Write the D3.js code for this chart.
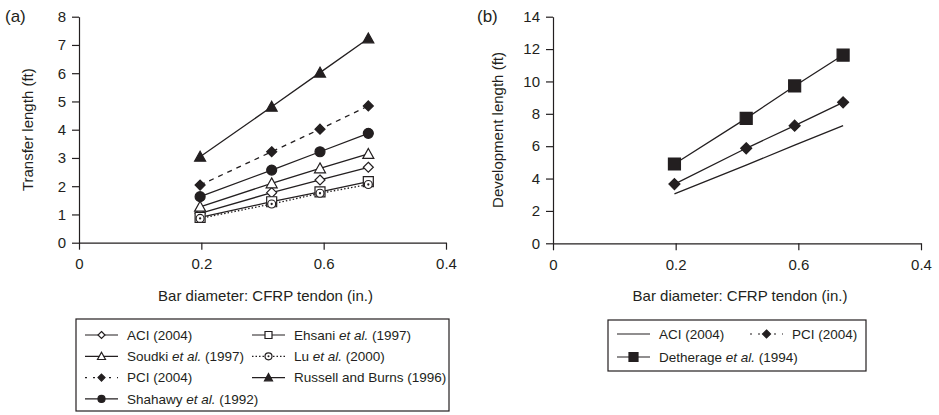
<!DOCTYPE html>
<html>
<head>
<meta charset="utf-8">
<script src="https://cdn.jsdelivr.net/npm/d3@7"></script>
<style>
  body { margin: 0; background: #fff; }
  svg { font-family: "Liberation Sans", Arial, sans-serif; }
</style>
</head>
<body>
<svg id="chart" width="939" height="415"></svg>
<script>
// --- data ---
const diameters = [0.198, 0.315, 0.394, 0.473];
const xTicks = [0, 0.2, 0.4, 0.6];
const xTickLabels = ["0", "0.2", "0.6", "0.4"];

// (a) transfer length (ft)
const aciA      = [1.04, 1.77, 2.22, 2.67];
const ehsani    = [0.90, 1.45, 1.80, 2.16];
const soudki    = [1.27, 2.10, 2.63, 3.14];
const lu        = [0.86, 1.37, 1.75, 2.06];
const pciA      = [2.04, 3.22, 4.02, 4.84];
const russell   = [3.04, 4.81, 6.02, 7.23];
const shahawy   = [1.63, 2.57, 3.22, 3.87];

// (b) development length (ft)
const aciB      = [3.05, 4.83, 6.06, 7.27];
const pciB      = [3.66, 5.87, 7.27, 8.71];
const detherage = [4.90, 7.72, 9.72, 11.63];

const seriesA = [
  {name: "ACI (2004)", values: aciA, marker: "diamond", fill: false, dash: null},
  {name: "Ehsani et al. (1997)", values: ehsani, marker: "square", fill: false, dash: null},
  {name: "Soudki et al. (1997)", values: soudki, marker: "triangle", fill: false, dash: null},
  {name: "Lu et al. (2000)", values: lu, marker: "dotcircle", fill: false, dash: "1.5,2"},
  {name: "PCI (2004)", values: pciA, marker: "diamond", fill: true, dash: "5,5"},
  {name: "Russell and Burns (1996)", values: russell, marker: "triangle", fill: true, dash: null},
  {name: "Shahawy et al. (1992)", values: shahawy, marker: "circle", fill: true, dash: null}
];
const seriesB = [
  {name: "ACI (2004)", values: aciB, marker: null, fill: false, dash: null},
  {name: "PCI (2004)", values: pciB, marker: "diamond", fill: true, dash: null, legendDash: "2,6"},
  {name: "Detherage et al. (1994)", values: detherage, marker: "square", fill: true, dash: null}
];

const svg = d3.select("#chart");
const ink = "#231f20";

function markerPath(kind, s) {
  // s = nominal size in px
  const h = s / 2;
  if (kind === "diamond") return `M0,${-h}L${h},0L0,${h}L${-h},0Z`;
  if (kind === "square") return `M${-h},${-h}H${h}V${h}H${-h}Z`;
  if (kind === "triangle") return `M0,${-h}L${h},${h * 0.8}L${-h},${h * 0.8}Z`;
  return null;
}

function drawMarker(g, kind, fill, s, x, y) {
  if (!kind) return;
  if (kind === "circle" || kind === "dotcircle") {
    g.append("circle").attr("cx", x).attr("cy", y).attr("r", s / 2)
      .attr("fill", fill ? ink : "#fff").attr("stroke", ink).attr("stroke-width", 1.2);
    if (kind === "dotcircle")
      g.append("circle").attr("cx", x).attr("cy", y).attr("r", s / 7).attr("fill", ink);
    return;
  }
  g.append("path").attr("d", markerPath(kind, s))
    .attr("transform", `translate(${x},${y})`)
    .attr("fill", fill ? ink : "#fff").attr("stroke", ink).attr("stroke-width", 1.2);
}

function addName(text, name, x, y) {
  const t = text.append("text").attr("x", x).attr("y", y).attr("dy", "0.35em")
    .attr("font-size", 13.5).attr("fill", ink);
  const parts = name.split("et al.");
  t.append("tspan").text(parts[0]);
  if (parts.length > 1) {
    t.append("tspan").attr("font-style", "italic").text("et al.");
    t.append("tspan").text(parts[1]);
  }
}

function drawPanel(cfg) {
  const g = svg.append("g");
  const x = d3.scaleLinear().domain([0, 0.6]).range([cfg.left, cfg.right]);
  const y = d3.scaleLinear().domain([0, cfg.yMax]).range([cfg.bottom, cfg.top]);

  const xAxis = g.append("g").attr("transform", `translate(0,${cfg.bottom})`)
    .call(d3.axisBottom(x).tickValues(xTicks).tickSize(7).tickSizeOuter(0).tickPadding(9)
      .tickFormat((d, i) => xTickLabels[i]));
  const yAxis = g.append("g").attr("transform", `translate(${cfg.left},0)`)
    .call(d3.axisLeft(y).ticks(cfg.yMax / cfg.yStep).tickSize(7).tickSizeOuter(0).tickPadding(6));
  [xAxis, yAxis].forEach(a => {
    a.selectAll("path, line").attr("stroke", ink).attr("stroke-width", 1.2);
    a.selectAll("text").attr("font-size", 15).attr("fill", ink)
      .attr("font-family", "Liberation Sans, Arial, sans-serif");
  });

  g.append("text").attr("x", cfg.labelX).attr("y", 22).attr("font-size", 17).attr("fill", ink)
    .text(cfg.label);
  g.append("text")
    .attr("transform", `translate(${cfg.titleX},${(cfg.top + cfg.bottom) / 2}) rotate(-90)`)
    .attr("text-anchor", "middle").attr("dy", "0.35em").attr("font-size", 15).attr("fill", ink)
    .text(cfg.yTitle);
  g.append("text").attr("x", (cfg.left + cfg.right) / 2 + 3).attr("y", 296).attr("dy", "0.35em")
    .attr("text-anchor", "middle").attr("font-size", 15).attr("fill", ink)
    .text("Bar diameter: CFRP tendon (in.)");

  const line = d3.line().x((d, i) => x(diameters[i])).y(d => y(d));
  cfg.series.forEach(s => {
    g.append("path").datum(s.values).attr("d", line).attr("fill", "none")
      .attr("stroke", ink).attr("stroke-width", 1.3)
      .attr("stroke-dasharray", s.dash);
  });
  cfg.series.forEach(s => {
    s.values.forEach((v, i) =>
      drawMarker(g, s.marker, s.fill, cfg.markerSize[s.marker] || 10, x(diameters[i]), y(v)));
  });

  // legend
  const lg = cfg.legend;
  g.append("rect").attr("x", lg.x).attr("y", lg.y).attr("width", lg.w).attr("height", lg.h)
    .attr("fill", "none").attr("stroke", ink).attr("stroke-width", 1.2);
  lg.order.forEach((idx, k) => {
    const s = cfg.series[idx];
    const col = k % 2, row = Math.floor(k / 2);
    const lx = lg.colX[col], ly = lg.y + lg.firstRow + row * lg.rowH;
    g.append("line").attr("x1", lx).attr("x2", lx + 33).attr("y1", ly).attr("y2", ly)
      .attr("stroke", ink).attr("stroke-width", 1.2)
      .attr("stroke-dasharray", s.legendDash || (s.dash ? (s.dash === "5,5" ? "2,6" : "1.5,2") : null));
    drawMarker(g, s.marker, s.fill, lg.markerSize[s.marker] || 7, lx + 16.5, ly);
    addName(g, s.name, lx + 42, ly);
  });
}

drawPanel({
  label: "(a)", labelX: 5, titleX: 28, yTitle: "Transfer length (ft)",
  left: 79, right: 446, top: 16.7, bottom: 242.7, yMax: 8, yStep: 1,
  series: seriesA,
  markerSize: {diamond: 10, square: 10, triangle: 11, dotcircle: 8, circle: 10},
  legend: {x: 76, y: 319, w: 373, h: 92, firstRow: 16, rowH: 21.3, colX: [85, 252],
    order: [0, 1, 2, 3, 4, 5, 6],
    markerSize: {diamond: 7, square: 7, triangle: 8, dotcircle: 7, circle: 7}}
});

drawPanel({
  label: "(b)", labelX: 477, titleX: 498, yTitle: "Development length (ft)",
  left: 553, right: 921, top: 16.7, bottom: 243.3, yMax: 14, yStep: 2,
  series: seriesB,
  markerSize: {diamond: 11, square: 12},
  legend: {x: 608, y: 320, w: 258, h: 51, firstRow: 14, rowH: 23, colX: [617, 750],
    order: [0, 1, 2],
    markerSize: {diamond: 8, square: 9}}
});
</script>
</body>
</html>
